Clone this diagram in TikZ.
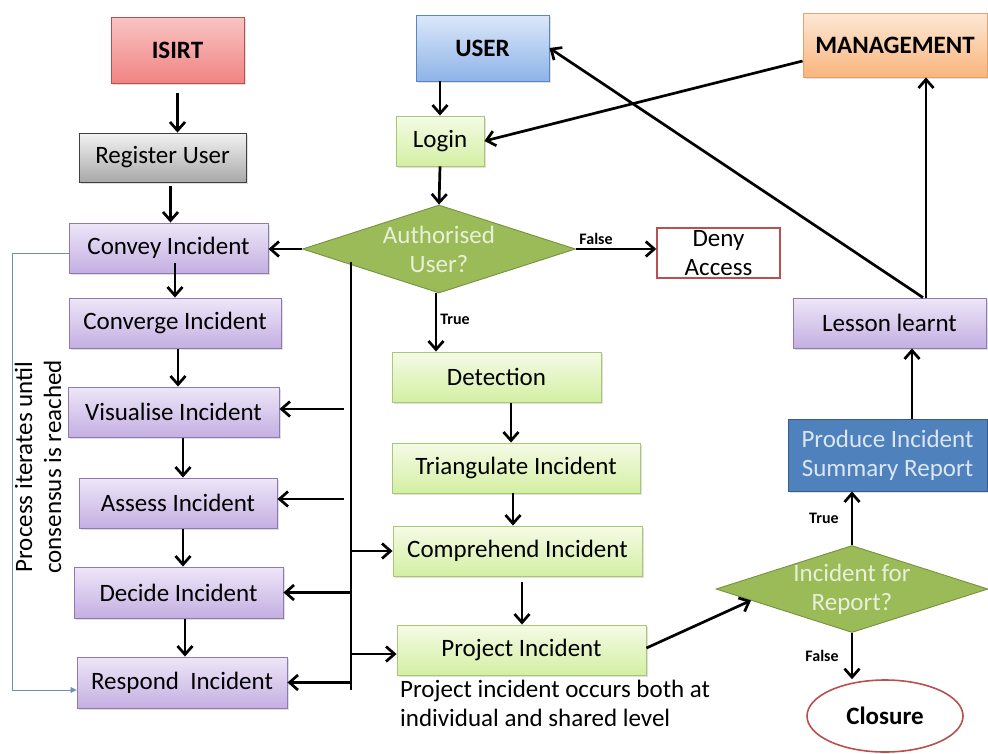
\documentclass[tikz,border=0pt]{standalone}
\usepackage{fontspec}
\setmainfont{Carlito}
\usetikzlibrary{arrows.meta,shapes.geometric,shadows,calc}

\definecolor{redtop}{HTML}{F9C4C4}
\definecolor{redbot}{HTML}{F08482}
\definecolor{redline}{HTML}{B9504E}
\definecolor{graytop}{HTML}{F2F2F2}
\definecolor{graybot}{HTML}{A9A9A9}
\definecolor{lavtop}{HTML}{EEE6F8}
\definecolor{lavbot}{HTML}{C4AFE2}
\definecolor{lavline}{HTML}{8F7AB0}
\definecolor{bluetop}{HTML}{DCE8F9}
\definecolor{bluebot}{HTML}{8DB3E8}
\definecolor{blueline}{HTML}{5B86BF}
\definecolor{grntop}{HTML}{F5FBE6}
\definecolor{grnbot}{HTML}{D3EFA3}
\definecolor{grnline}{HTML}{A9C775}
\definecolor{orgtop}{HTML}{FDE8D6}
\definecolor{orgbot}{HTML}{F9B57D}
\definecolor{orgline}{HTML}{E3A46B}
\definecolor{olive}{HTML}{9BBB59}
\definecolor{oliveline}{HTML}{76923C}
\definecolor{olivetext}{HTML}{E8F0D8}
\definecolor{steel}{HTML}{4F81BD}
\definecolor{steelline}{HTML}{385D8A}
\definecolor{steeltext}{HTML}{DCE6F2}
\definecolor{fbline}{HTML}{6F90B5}

\begin{document}
\begin{tikzpicture}[x=1pt,y=-1pt,
  font=\fontsize{25}{29}\selectfont,
  box/.style={draw, line width=0.9pt, inner sep=0pt, align=center,
    drop shadow={opacity=0.25, shadow xshift=2pt, shadow yshift=-2pt}},
  redbox/.style={box, draw=redline, top color=redtop, bottom color=redbot},
  graybox/.style={box, draw=black!75, top color=graytop, bottom color=graybot},
  lavbox/.style={box, draw=lavline, top color=lavtop, bottom color=lavbot},
  bluebox/.style={box, draw=blueline, top color=bluetop, bottom color=bluebot},
  grnbox/.style={box, draw=grnline, top color=grntop, bottom color=grnbot},
  orgbox/.style={box, draw=orgline, top color=orgtop, bottom color=orgbot},
  decision/.style={diamond, draw=oliveline, fill=olive, line width=0.9pt, inner sep=0pt},
  dtext/.style={text=olivetext, align=center, inner sep=0pt},
  arr/.style={line width=2.7pt, -{Straight Barb[length=8.5pt,width=15pt]}},
  plain/.style={line width=2.7pt},
  fb/.style={line width=0.8pt, draw=fbline, -{Triangle[length=6pt,width=6pt]}},
  tag/.style={font=\fontsize{16}{18}\selectfont\bfseries, inner sep=0pt}]

\useasboundingbox (0,0) rectangle (988,753);

% ---------- left column ----------
\node[redbox, minimum width=133pt, minimum height=66pt] (isirt) at (177.5,50) {\bfseries ISIRT};
\node[graybox, minimum width=167pt, minimum height=49pt] (reg) at (162.5,157.5) {Register User};
\node[lavbox, minimum width=199pt, minimum height=50pt] (convey) at (168.5,248) {Convey Incident};
\node[lavbox, minimum width=212pt, minimum height=50pt] (converge) at (175,323) {Converge Incident};
\node[lavbox, minimum width=211pt, minimum height=50pt] (visual) at (173.5,412) {Visualise Incident};
\node[lavbox, minimum width=198pt, minimum height=50pt] (assess) at (178,503) {Assess Incident};
\node[lavbox, minimum width=209pt, minimum height=51pt] (decide) at (178.5,592.5) {Decide Incident};
\node[lavbox, minimum width=210pt, minimum height=51pt] (respond) at (182,682.5) {Respond\ \ Incident};

\node[rotate=90, align=center, inner sep=0pt] (iter) at (38,467)
  {Process iterates until\\consensus is reached};

% ---------- middle column ----------
\node[bluebox, minimum width=133pt, minimum height=66pt] (user) at (482.5,48) {\bfseries USER};
\node[grnbox, minimum width=88pt, minimum height=50pt] (login) at (440,141) {Login};
\node[decision, minimum width=273pt, minimum height=88pt] (auth) at (439,249) {};
\node[dtext] (authtxt) at (auth.center) {Authorised\\User?};
\node[draw=redline, line width=1.4pt, fill=white, minimum width=123pt, minimum height=50pt,
  inner sep=0pt, align=center] (deny) at (718.5,253) {Deny\\Access};

\node[grnbox, minimum width=209pt, minimum height=50pt] (detect) at (496.5,377) {Detection};
\node[grnbox, minimum width=248pt, minimum height=50pt] (triang) at (516,468) {Triangulate Incident};
\node[grnbox, minimum width=249pt, minimum height=50pt] (compre) at (517.5,551) {Comprehend Incident};
\node[grnbox, minimum width=249pt, minimum height=50pt] (project) at (521.5,650) {Project Incident};
\node[anchor=north west, align=left, inner sep=0pt] (note) at (400,680)
  {Project incident occurs both at\\individual and shared level};

% ---------- right column ----------
\node[orgbox, minimum width=184pt, minimum height=64pt] (mgmt) at (895,45) {\bfseries MANAGEMENT};
\node[lavbox, minimum width=193pt, minimum height=50pt] (lesson) at (889.5,323) {Lesson learnt};
\node[box, draw=steelline, fill=steel, text=steeltext, minimum width=199pt, minimum height=72pt]
  (produce) at (887.5,455) {Produce Incident\\Summary Report};
\node[decision, minimum width=272pt, minimum height=87pt] (report) at (852,589) {};
\node[dtext] (reporttxt) at (report.center) {Incident for\\Report?};
\node[ellipse, draw=redline, line width=1.6pt, fill=white, minimum width=156pt,
  minimum height=72pt, inner sep=0pt] (closure) at (885,716) {\bfseries Closure};

% ---------- connectors: left column ----------
\draw[arr, shorten <=10pt] (isirt.south) -- (isirt.south |- reg.north);
\draw[arr, shorten <=4pt] ([xshift=8pt]reg.south) -- ([xshift=8pt]reg.south |- convey.north);
\draw[arr, shorten <=-10pt] ([xshift=6.5pt]convey.south) -- ([xshift=6.5pt]convey.south |- converge.north);
\draw[arr, shorten <=1pt] ([xshift=3pt]converge.south) -- ([xshift=3pt]converge.south |- visual.north);
\draw[arr, shorten <=1pt] ([xshift=9.5pt]visual.south) -- ([xshift=9.5pt]visual.south |- assess.north);
\draw[arr, shorten <=1pt] ([xshift=5pt]assess.south) -- ([xshift=5pt]assess.south |- decide.north);
\draw[arr, shorten <=1pt] ([xshift=6.5pt]decide.south) -- ([xshift=6.5pt]decide.south |- respond.north);

% iteration loop
\coordinate (loopx) at (12,0);
\draw[fb] ([yshift=-5pt]convey.west) -- ([yshift=-5pt]convey.west -| loopx)
  -- ([yshift=-7.5pt]respond.west -| loopx) -- ([yshift=-7.5pt]respond.west);

% ---------- connectors: middle column ----------
\draw[arr] (user.south -| login.north) -- (login.north);
\draw[arr] (login.south) -- (auth.north);
\draw[arr] ([xshift=-3pt]auth.south) -- ([xshift=-3pt]auth.south |- detect.north)
  node[tag, pos=0.45, anchor=west, xshift=3pt] {True};
\draw[arr] (auth.east) -- (auth.east -| deny.west)
  node[tag, pos=0.25, anchor=south, yshift=3pt] {False};
\draw[arr] (auth.west) -- (auth.west -| convey.east);

\draw[arr, shorten <=1pt] ([xshift=14.5pt]detect.south) -- ([xshift=14.5pt]detect.south |- triang.north);
\draw[arr] ([xshift=-3pt]triang.south) -- ([xshift=-3pt]triang.south |- compre.north);
\draw[arr, shorten <=6pt] ([xshift=4.5pt]compre.south) -- ([xshift=4.5pt]compre.south |- project.north);

% distribution bus
\coordinate (bustop) at (351,262);
\coordinate (busbot) at (351,690);
\draw[plain] (bustop) -- (busbot);
\draw[arr] ([yshift=3pt]visual.east -| 344,0) -- ([yshift=3pt]visual.east);
\draw[arr] ([yshift=4pt]assess.east -| 344,0) -- ([yshift=4pt]assess.east);
\draw[arr] (decide.east -| bustop) -- (decide.east);
\draw[arr] (respond.east -| bustop) -- (respond.east);
\draw[arr] (compre.west -| bustop) -- (compre.west);
\draw[arr] ([yshift=-4pt]project.west -| bustop) -- ([yshift=-4pt]project.west);

% ---------- connectors: right column ----------
\draw[arr] ([yshift=2pt]project.east) -- ($(report.west)!0.26!(report.south)$);
\draw[arr] (report.north) -- (report.north |- produce.south)
  node[tag, pos=0.5, anchor=east, xshift=-12pt] {True};
\draw[arr] (report.south) -- (report.south |- closure.north)
  node[tag, pos=0.5, anchor=east, xshift=-12pt] {False};
\draw[arr] ([xshift=24.5pt]produce.north) -- ([xshift=24.5pt]produce.north |- lesson.south);
\draw[arr] ([xshift=36.5pt]lesson.north) -- ([xshift=36.5pt]lesson.north |- mgmt.south);
\draw[arr] ([xshift=33.5pt]lesson.north) -- (user.east);
\draw[arr] ([yshift=-16pt]mgmt.west) -- (login.east);

\end{tikzpicture}
\end{document}
